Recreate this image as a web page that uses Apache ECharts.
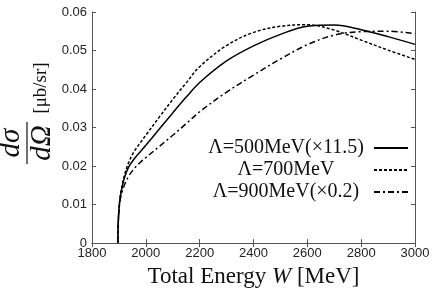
<!DOCTYPE html>
<html><head><meta charset="utf-8">
<script src="https://cdn.jsdelivr.net/npm/echarts@6/dist/echarts.min.js"></script>
<style>html,body{margin:0;padding:0;background:#fff}#c{width:436px;height:293px}</style>
</head><body><div id="c"></div>
<script>
const energies = [1896, 1897, 1899, 1902, 1906, 1912, 1920, 1935, 1955, 1980, 2000, 2050, 2100, 2150, 2200, 2300, 2400, 2500, 2600, 2700, 2800, 2900, 3000];
const lambda500 = [0, 0.004, 0.0075, 0.0102, 0.0124, 0.0145, 0.0168, 0.0196, 0.0217, 0.0238, 0.0254, 0.0296, 0.0338, 0.0379, 0.0417, 0.0473, 0.0512, 0.0542, 0.0563, 0.0566, 0.0554, 0.0536, 0.0516];
const lambda700 = [0, 0.004, 0.0076, 0.0104, 0.0127, 0.015, 0.0175, 0.0207, 0.0236, 0.0261, 0.028, 0.0327, 0.0373, 0.0416, 0.0458, 0.0513, 0.0547, 0.0563, 0.0567, 0.0553, 0.0527, 0.0501, 0.0477];
const lambda900 = [0, 0.004, 0.0074, 0.0099, 0.0117, 0.0133, 0.015, 0.0172, 0.0192, 0.021, 0.0222, 0.0251, 0.028, 0.031, 0.0341, 0.0392, 0.0436, 0.0478, 0.0515, 0.054, 0.0549, 0.055, 0.0544];
const seriesNames = ['Λ=500MeV(×11.5)', 'Λ=700MeV', 'Λ=900MeV(×0.2)'];
const xTicks = [1800, 2000, 2200, 2400, 2600, 2800, 3000];
const yTicks = [0, 0.01, 0.02, 0.03, 0.04, 0.05, 0.06];

const pairs = arr => energies.map((w, i) => [w, arr[i]]);
const axisCol = '#555';
const tickFont = {fontFamily: 'Liberation Sans, Arial, sans-serif', fontSize: 13, color: '#222'};
const serif = 'Liberation Serif, Times New Roman, serif';

const chart = echarts.init(document.getElementById('c'), null, {renderer: 'canvas'});
chart.setOption({
  animation: false,
  grid: {left: 92, right: 21, top: 12, bottom: 46},
  xAxis: [{
    type: 'value', min: 1800, max: 3000, interval: 200,
    axisLine: {lineStyle: {color: axisCol, width: 1}},
    axisTick: {inside: true, length: 4, lineStyle: {color: axisCol}},
    axisLabel: Object.assign({margin: 4, formatter: v => xTicks.includes(v) ? String(v) : ''}, tickFont),
    splitLine: {show: false},
    name: 'Total Energy {i|W} [MeV]', nameLocation: 'middle', nameGap: 21,
    nameTextStyle: {fontFamily: serif, fontSize: 23, color: '#111',
      rich: {i: {fontFamily: serif, fontSize: 23, fontStyle: 'italic', color: '#111'}}}
  }, {
    type: 'value', position: 'top', min: 1800, max: 3000, interval: 200,
    axisLine: {lineStyle: {color: axisCol}},
    axisTick: {inside: true, length: 4, lineStyle: {color: axisCol}},
    axisLabel: {show: false}, splitLine: {show: false}
  }],
  yAxis: [{
    type: 'value', min: 0, max: 0.06, interval: 0.01,
    axisLine: {show: true, lineStyle: {color: axisCol}},
    axisTick: {show: true, inside: true, length: 4, lineStyle: {color: axisCol}},
    axisLabel: Object.assign({margin: 5, formatter: v => {
      const t = yTicks.find(y => Math.abs(y - v) < 1e-9);
      return t === undefined ? '' : (t === 0 ? '0' : t.toFixed(2));
    }}, tickFont),
    splitLine: {show: false}
  }, {
    type: 'value', position: 'right', min: 0, max: 0.06, interval: 0.01,
    axisLine: {show: true, lineStyle: {color: axisCol}},
    axisTick: {show: true, inside: true, length: 4, lineStyle: {color: axisCol}},
    axisLabel: {show: false}, splitLine: {show: false}
  }],
  legend: {
    orient: 'vertical', left: 198, top: 133, align: 'right',
    itemWidth: 34, itemHeight: 10, itemGap: 2, itemTextGap: 6,
    data: seriesNames.map(n => ({name: n, itemStyle: {opacity: 0}})),
    itemStyle: {opacity: 0},
    formatter: n => '{t|' + n + '}',
    textStyle: {rich: {t: {fontFamily: serif, fontSize: 20, color: '#111', width: 166, align: 'center', lineHeight: 17}}}
  },
  series: [
    {name: seriesNames[0], type: 'line', data: pairs(lambda500), symbol: 'none', showSymbol: false, smooth: 0.35,
     lineStyle: {color: '#000', width: 1.5, type: 'solid'}, itemStyle: {color: '#000'}},
    {name: seriesNames[1], type: 'line', data: pairs(lambda700), symbol: 'none', showSymbol: false, smooth: 0.35,
     lineStyle: {color: '#000', width: 1.5, type: [3, 2]}, itemStyle: {color: '#000'}},
    {name: seriesNames[2], type: 'line', data: pairs(lambda900), symbol: 'none', showSymbol: false, smooth: 0.35,
     lineStyle: {color: '#000', width: 1.5, type: [6, 3, 2, 3]}, itemStyle: {color: '#000'}}
  ],
  graphic: [{
    type: 'group', x: 27, y: 143, rotation: Math.PI / 2,
    children: [
      {type: 'text', x: 0, y: -1, style: {text: 'dσ', fontFamily: serif, fontStyle: 'italic', fontSize: 29, fill: '#111', align: 'center', verticalAlign: 'bottom'}},
      {type: 'line', shape: {x1: -21, y1: 0, x2: 21, y2: 0}, style: {stroke: '#111', lineWidth: 1.2}},
      {type: 'text', x: 0, y: 1, style: {text: 'dΩ', fontFamily: serif, fontStyle: 'italic', fontSize: 29, fill: '#111', align: 'center', verticalAlign: 'top'}},
      {type: 'text', x: 55, y: 14, style: {text: '[μb/sr]', fontFamily: serif, fontSize: 19, fill: '#111', align: 'center', verticalAlign: 'middle'}}
    ]
  }]
});
</script></body></html>
